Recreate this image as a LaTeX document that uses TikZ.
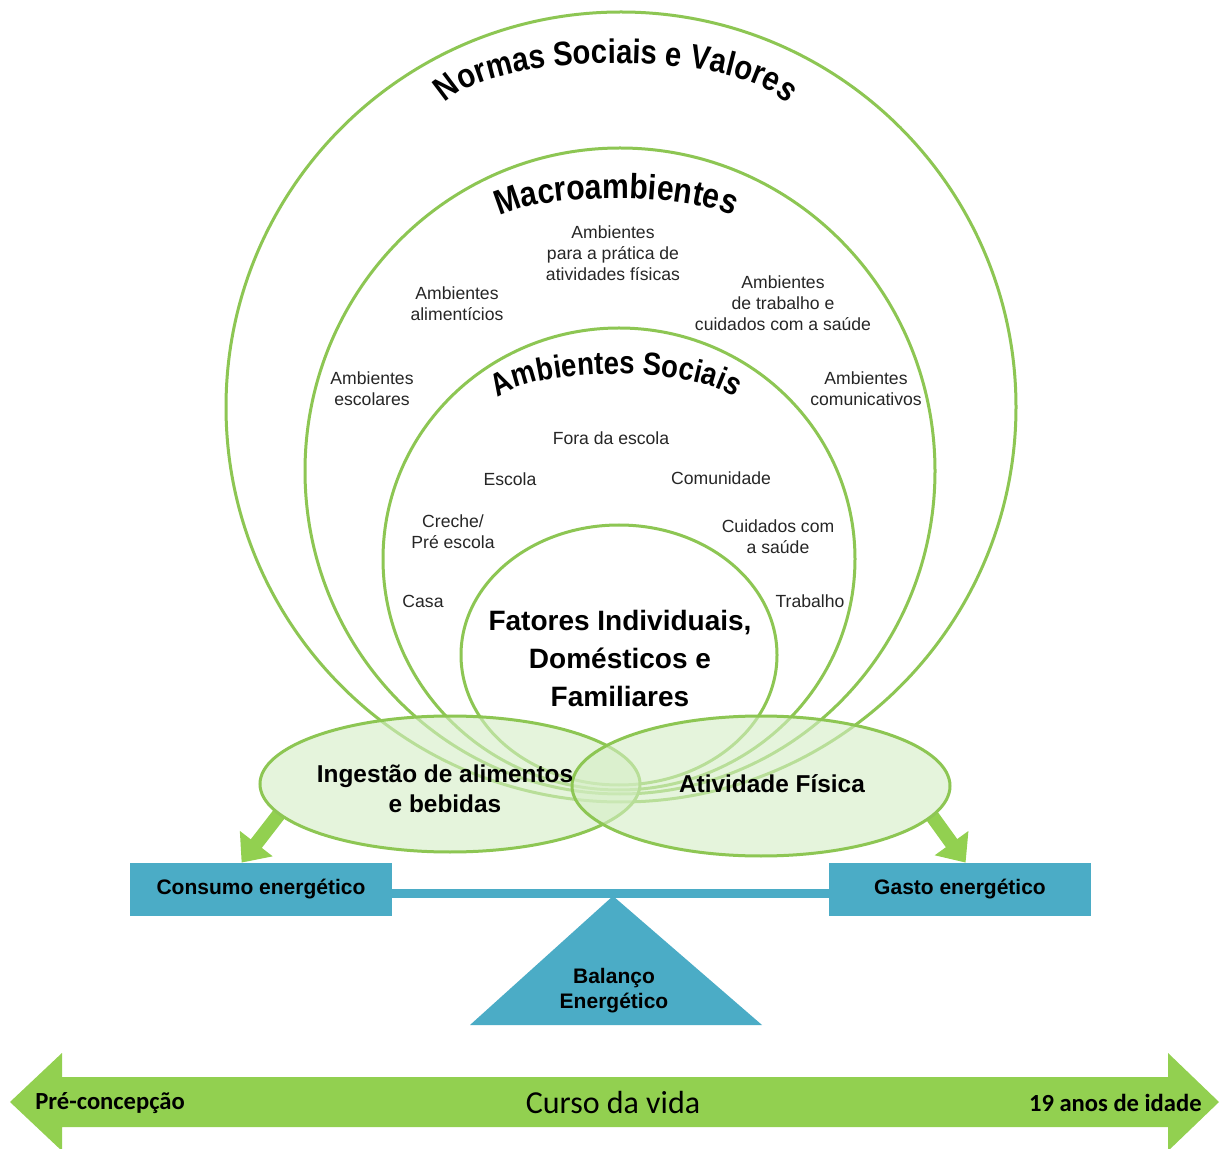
\documentclass[tikz,border=0pt]{standalone}
\usepackage{fontspec}
\setmainfont{Liberation Sans}
\newfontfamily\carlito{Carlito}
\newfontfamily\arcfont[FakeStretch=0.86]{Liberation Sans}
\usetikzlibrary{shapes.geometric,arrows.meta,decorations.text,calc}
\definecolor{ringgreen}{HTML}{8DC653}
\definecolor{arrgreen}{HTML}{92D050}
\definecolor{boxteal}{HTML}{4BACC6}
\definecolor{ellfill}{HTML}{D5EEC6}
\begin{document}
\begin{tikzpicture}[x=0.5pt,y=0.5pt,
  ring/.style={draw=ringgreen, line width=1.5pt},
  small/.style={font=\fontsize{8.8}{10.5}\selectfont, align=center, text=black!85, inner sep=0pt},
  oval/.style={ellipse, draw=ringgreen, line width=1.5pt, fill=ellfill, fill opacity=0.6, draw opacity=1, inner sep=0pt},
  ovaltext/.style={font=\bfseries\fontsize{12.2}{15}\selectfont, align=center, inner sep=0pt},
  box/.style={fill=boxteal, minimum width=131pt, minimum height=26.5pt, inner sep=0pt, font=\bfseries\fontsize{10.5}{12.5}\selectfont, text=black},
  blockarrow/.style={draw=arrgreen, line width=7pt, -{Triangle[width=20pt,length=12pt]}},
  arctitle/.style={decorate, decoration={text along path, text align=center, text={#1}}}
]
\useasboundingbox (0,0) rectangle (1221,-1149);
\fill[white] (0,0) rectangle (1221,-1149);

% rings
\draw[ring] (621,-407) ellipse [x radius=395, y radius=395];
\draw[ring] (620,-471) ellipse [x radius=315, y radius=323];
\draw[ring] (619,-559) ellipse [x radius=236, y radius=231];
\draw[ring] (619,-655) ellipse [x radius=158, y radius=130];

% curved titles
\path[arctitle={|\arcfont\bfseries\fontsize{17}{17}\selectfont|Normas Sociais e Valores}]
  (440,-112) .. controls (470,-47) and (762,-47) .. (792,-112);
\path[arctitle={|\arcfont\bfseries\fontsize{17.5}{17.5}\selectfont|Macroambientes}]
  (490,-224) .. controls (518,-190) and (714,-190) .. (742,-224);
\path[arctitle={|\arcfont\bfseries\fontsize{16}{16}\selectfont|Ambientes Sociais}]
  (492,-404) .. controls (520,-364) and (712,-364) .. (740,-404);

% small labels
\node[small] (pratica) at (613,-253) {Ambientes\\para a prática de\\atividades físicas};
\node[small] (alim) at (457,-303.5) {Ambientes\\alimentícios};
\node[small] (trab) at (783,-303.5) {Ambientes\\de trabalho e\\cuidados com a saúde};
\node[small] (escol) at (372,-388.5) {Ambientes\\escolares};
\node[small] (comun) at (866,-388.5) {Ambientes\\comunicativos};
\node[small] (fora) at (611,-438) {Fora da escola};
\node[small] (escola) at (510,-479) {Escola};
\node[small] (comunid) at (721,-478) {Comunidade};
\node[small] (creche) at (453,-532) {Creche/\\Pré escola};
\node[small] (cuid) at (778,-536.5) {Cuidados com\\a saúde};
\node[small] (casa) at (423,-601) {Casa};
\node[small] (trabalho) at (810,-601) {Trabalho};

\node[font=\bfseries\fontsize{14}{19}\selectfont, align=center, inner sep=0pt] (fatores) at (620,-658)
  {Fatores Individuais,\\Domésticos e\\Familiares};

% boxes
\node[box] (consumo) at (261,-889.5) {Consumo energético};
\node[box] (gasto) at (960,-889.5) {Gasto energético};
\draw[boxteal, line width=4.5pt] ([yshift=-2pt]consumo.east) -- ([yshift=-2pt]gasto.west);

% ellipses (nodes) and arrows
\path (450,-784) coordinate (ingc) (761,-786) coordinate (ativc);
\node[ellipse, minimum width=190pt, minimum height=68pt, inner sep=0pt] (ingest) at (ingc) {};
\node[ellipse, minimum width=189pt, minimum height=70pt, inner sep=0pt] (ativ) at (ativc) {};
\draw[blockarrow] (ingest.190) -- ($(consumo.north west)+(112,0)$);
\draw[blockarrow] (ativ.-10) -- ($(gasto.north west)+(137,0)$);
\node[oval, minimum width=190pt, minimum height=68pt] at (ingc) {};
\node[oval, minimum width=189pt, minimum height=70pt] at (ativc) {};
\node[ovaltext] (ingtext) at (445,-789) {Ingestão de alimentos\\e bebidas};
\node[ovaltext] (ativtext) at (772,-784) {Atividade Física};

% fulcrum
\fill[boxteal] (470,-1025) -- (613,-896) -- (762,-1025) -- cycle;
\node[font=\bfseries\fontsize{10.5}{12.5}\selectfont, align=center, inner sep=0pt] (balanco) at (614,-991) {Balanço\\Energético};

% life course arrow
\fill[arrgreen] (10,-1102) -- (62,-1053) -- (62,-1077) -- (1168,-1077) -- (1168,-1053) -- (1219,-1102)
  -- (1168,-1151) -- (1168,-1127) -- (62,-1127) -- (62,-1151) -- cycle;
\node[font=\carlito\bfseries\fontsize{12.3}{14}\selectfont, anchor=west, inner sep=0pt] (pre) at (35,-1103) {Pré-concepção};
\node[font=\carlito\fontsize{16}{18}\selectfont, inner sep=0pt] (curso) at (613,-1103) {Curso da vida};
\node[font=\carlito\bfseries\fontsize{12.3}{14}\selectfont, anchor=east, inner sep=0pt] (idade) at (1202,-1103) {19 anos de idade};
\end{tikzpicture}
\end{document}
